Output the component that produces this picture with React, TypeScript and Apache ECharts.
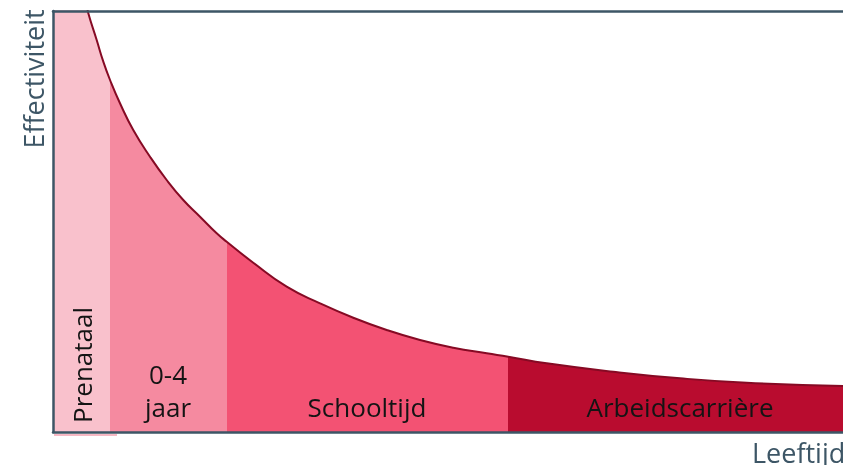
import React, { useEffect, useRef } from "react";
import * as echarts from "echarts";

// Age (x, 0–100 relative scale) and effectiveness (y, 0–100)
const ageValues = [
  0, 3.9, 4.47, 5.53, 6.37, 7.22, 8.48, 10.16, 12.28, 14.39, 16.49, 18.61, 20.72, 21.99,
  25.35, 29.58, 33.8, 38.01, 42.24, 46.46, 50.67, 54.9, 57.63, 62.49, 70.92, 79.37, 87.81, 100,
];
const effectValues = [
  104, 104, 99.45, 93.11, 87.96, 83.61, 78.08, 71.73, 65.39, 59.86, 55.11, 51.14, 47.2, 45.2,
  40.21, 34.51, 30.57, 27.15, 24.23, 21.85, 20.02, 18.69, 17.89, 16.32, 14.32, 12.76, 11.71, 10.93,
];

// Phase boundaries on the age axis
const phaseBounds = [7.2, 22.0, 57.6];
const phaseNames = ["Prenataal", "0-4\njaar", "Schooltijd", "Arbeidscarrière"];
const phaseColors = ["#f9c1cc", "#f58aa0", "#f35273", "#b90c2f"];

const xName = "Leeftijd";
const yName = "Effectiviteit";

const AXIS_COLOR = "#3d5666";
const FONT = "Open Sans";

export default function App() {
  const ref = useRef<HTMLDivElement>(null);

  useEffect(() => {
    if (!ref.current) return;
    const chart = echarts.init(ref.current, null, { renderer: "svg" });

    const data = ageValues.map((a, i) => [a, effectValues[i]]);

    const pieces = phaseColors.map((c, i) => {
      const p: any = { color: c };
      if (i > 0) p.gte = phaseBounds[i - 1];
      if (i < phaseBounds.length) p.lt = phaseBounds[i];
      return p;
    });

    const axisLine = { show: true, lineStyle: { color: AXIS_COLOR, width: 2.5 } };
    const baseX = {
      type: "value",
      min: 0,
      max: 100,
      axisTick: { show: false },
      axisLabel: { show: false },
      splitLine: { show: false },
      axisLine,
      z: 10,
    };

    const labelStyle = { font: `26px "${FONT}"`, fill: "#141414", align: "center", verticalAlign: "middle" };

    chart.setOption({
      animation: false,
      grid: { left: 53, right: 0, top: 11, bottom: 33 },
      xAxis: [
        { ...baseX, position: "bottom" },
        { ...baseX, position: "top" },
      ],
      yAxis: {
        type: "value",
        min: 0,
        max: 100,
        axisTick: { show: false },
        axisLabel: { show: false },
        splitLine: { show: false },
        axisLine,
        z: 10,
      },
      visualMap: {
        type: "piecewise",
        show: false,
        dimension: 0,
        seriesIndex: 0,
        pieces,
      },
      series: [
        {
          type: "line",
          data,
          smooth: 0.5,
          symbol: "none",
          clip: true,
          lineStyle: { color: "#860a24", width: 2 },
          areaStyle: { opacity: 1 },
        },
      ],
      graphic: [
        {
          type: "text",
          z: 100,
          x: 82,
          y: 365,
          rotation: Math.PI / 2,
          style: { ...labelStyle, text: phaseNames[0] },
        },
        {
          type: "text",
          z: 100,
          x: 168,
          y: 390,
          style: { ...labelStyle, text: phaseNames[1], lineHeight: 33 },
        },
        {
          type: "text",
          z: 100,
          x: 367,
          y: 407,
          style: { ...labelStyle, text: phaseNames[2] },
        },
        {
          type: "text",
          z: 100,
          x: 680,
          y: 407,
          style: { ...labelStyle, text: phaseNames[3] },
        },
        {
          type: "text",
          z: 100,
          x: 33,
          y: 79,
          rotation: Math.PI / 2,
          style: { text: yName, font: `27px "${FONT}"`, fill: AXIS_COLOR, align: "center", verticalAlign: "middle" },
        },
        {
          type: "text",
          z: 100,
          x: 752,
          y: 452,
          style: { text: xName, font: `27px "${FONT}"`, fill: AXIS_COLOR, align: "left", verticalAlign: "middle" },
        },
        {
          type: "rect",
          z: 100,
          shape: { x: 54, y: 434, width: 63, height: 2 },
          style: { fill: "#f7b8c4" },
        },
      ],
    });

    return () => chart.dispose();
  }, []);

  return (
    <div
      ref={ref}
      style={{ position: "fixed", left: 0, top: 0, width: 843, height: 465 }}
    />
  );
}
